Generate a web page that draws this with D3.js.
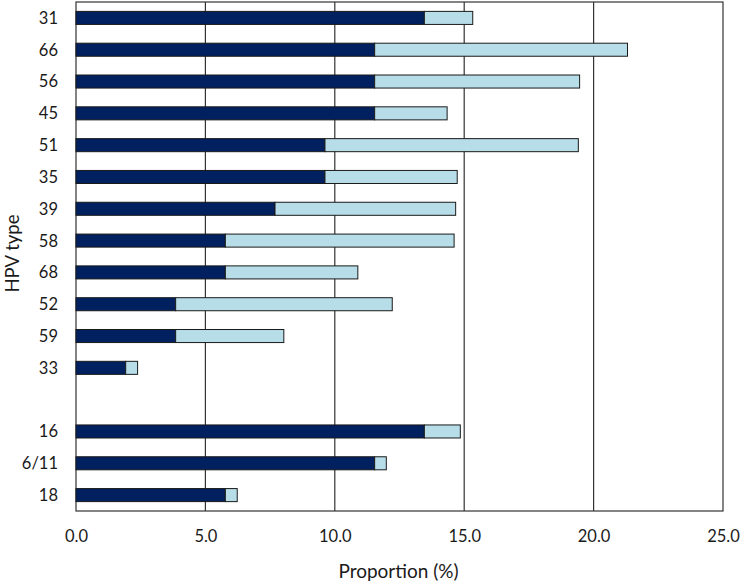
<!DOCTYPE html>
<html>
<head>
<meta charset="utf-8">
<script src="https://cdn.jsdelivr.net/npm/d3@7"></script>
<style>
  html, body { margin: 0; padding: 0; background: #fff; }
  svg { display: block; }
  text { font-family: Lato, "Open Sans", sans-serif; fill: #1a1a1a; }
</style>
</head>
<body>
<svg id="chart" width="740" height="583"></svg>
<script>
// Categories (top to bottom); "" marks the empty gap row
const categories = ["31", "66", "56", "45", "51", "35", "39", "58", "68", "52", "59", "33", "", "16", "6/11", "18"];
// Dark (first) segment, %
const darkValues = [13.46, 11.54, 11.54, 11.54, 9.62, 9.62, 7.69, 5.77, 5.77, 3.85, 3.85, 1.92, null, 13.46, 11.54, 5.77];
// Light (second) segment, %
const lightValues = [1.87, 9.77, 7.92, 2.80, 9.79, 5.11, 6.98, 8.84, 5.12, 8.37, 4.18, 0.46, null, 1.39, 0.45, 0.46];
const xTicks = [0, 5, 10, 15, 20, 25];
const xTitle = "Proportion (%)";
const yTitle = "HPV type";

const keys = categories.map((c, i) => c === "" ? "gap" + i : c);
const rows = keys.map((k, i) => ({ key: k, label: categories[i], dark: darkValues[i], light: lightValues[i] }))
  .filter(d => d.dark !== null);

const svg = d3.select("#chart");
const mLeft = 76, mRight = 723, mTop = 2, mBottom = 511;

const x = d3.scaleLinear().domain([0, 25]).range([mLeft, mRight]);
const y = d3.scaleBand().domain(keys).range([mTop, mBottom]).paddingInner(0.59).paddingOuter(0.295);

// gridlines
svg.append("g").selectAll("line").data(xTicks.filter(t => t > 0 && t < 25)).join("line")
  .attr("x1", d => x(d)).attr("x2", d => x(d))
  .attr("y1", mTop).attr("y2", mBottom)
  .attr("stroke", "#333").attr("stroke-width", 1.2);

// plot frame
svg.append("rect")
  .attr("x", mLeft).attr("y", mTop)
  .attr("width", mRight - mLeft).attr("height", mBottom - mTop)
  .attr("fill", "none").attr("stroke", "#333").attr("stroke-width", 1.2);

// bars
const bars = svg.append("g");
bars.selectAll("rect.dark").data(rows).join("rect")
  .attr("class", "dark")
  .attr("x", x(0))
  .attr("y", d => y(d.key))
  .attr("width", d => x(d.dark) - x(0))
  .attr("height", y.bandwidth())
  .attr("fill", "#002060").attr("stroke", "#1a1a1a").attr("stroke-width", 1);
bars.selectAll("rect.light").data(rows).join("rect")
  .attr("class", "light")
  .attr("x", d => x(d.dark))
  .attr("y", d => y(d.key))
  .attr("width", d => x(d.dark + d.light) - x(d.dark))
  .attr("height", y.bandwidth())
  .attr("fill", "#b7dde8").attr("stroke", "#1a1a1a").attr("stroke-width", 1);

// x axis
const xAxis = d3.axisBottom(x).tickValues(xTicks).tickFormat(d3.format(".1f")).tickSize(0).tickPadding(0);
const gx = svg.append("g").attr("transform", `translate(0,${mBottom})`).call(xAxis);
gx.select(".domain").remove();
gx.selectAll("text").attr("y", 31).attr("dy", 0)
  .style("font-size", "16.5px").style("font-family", "Lato, 'Open Sans', sans-serif").attr("fill", "#1a1a1a");

// y axis
const yAxis = d3.axisLeft(y).tickFormat((d, i) => categories[i]).tickSize(0).tickPadding(0);
const gy = svg.append("g").attr("transform", `translate(${mLeft},0)`).call(yAxis);
gy.select(".domain").remove();
gy.selectAll("text").attr("x", -18).attr("dy", "0.36em")
  .style("font-size", "16.5px").style("font-family", "Lato, 'Open Sans', sans-serif").attr("fill", "#1a1a1a");

// titles
svg.append("text")
  .attr("x", (mLeft + mRight) / 2 - 1).attr("y", 578)
  .attr("text-anchor", "middle")
  .style("font-size", "19px")
  .text(xTitle);
svg.append("text")
  .attr("transform", `translate(19,${(mTop + mBottom) / 2 - 3}) rotate(-90)`)
  .attr("text-anchor", "middle")
  .style("font-size", "18.5px")
  .text(yTitle);
</script>
</body>
</html>
